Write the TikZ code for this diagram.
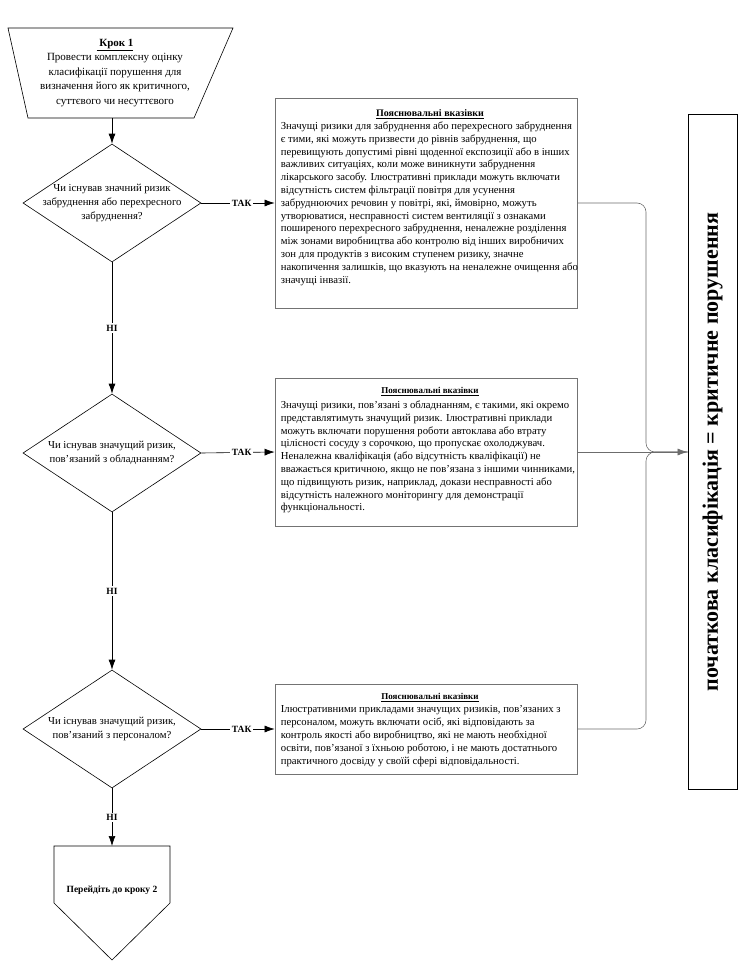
\documentclass[tikz,border=0pt]{standalone}
\usepackage{fontspec}
\setmainfont{Liberation Serif}
\usetikzlibrary{shapes.geometric,arrows.meta,calc}
\begin{document}
\begin{tikzpicture}[x=1pt,y=-1pt,
  flow/.style={draw=black, line width=0.6pt, -{Latex[length=10pt,width=7pt]}},
  conn/.style={draw=gray!85!black, line width=0.6pt},
  infobox/.style={draw=gray!90!black, line width=0.7pt, minimum width=302pt, inner sep=0pt},
  lbl/.style={fill=white, font=\bfseries\fontsize{9.5}{11}\selectfont, inner sep=1.5pt},
  bodytext/.style={align=left, inner sep=0pt, anchor=north west, font=\fontsize{10.7}{12.8}\selectfont},
  titletext/.style={font=\bfseries\fontsize{10}{12}\selectfont, anchor=base, inner sep=0pt},
  dia/.style={draw=black, diamond, minimum width=178pt, minimum height=118pt, inner sep=0pt, line width=0.6pt},
  diatext/.style={align=center, inner sep=0pt, font=\fontsize{10.7}{14}\selectfont},
  shapeline/.style={draw=black, line width=0.6pt}
]
\useasboundingbox (0,0) rectangle (744,974);

% Step 1 trapezoid
\draw[shapeline] (8,28) -- (233,28) -- (194,118) -- (28,118) -- cycle;
\coordinate (t1) at (112,118);
\node[align=center, inner sep=0pt, font=\fontsize{11}{14.5}\selectfont] (step1) at (115,73)
  {\textbf{\underline{\ Крок 1}}\\Провести комплексну оцінку\\класифікації порушення для\\визначення його як критичного,\\суттєвого чи несуттєвого};

% Diamonds
\node[dia] (d1) at (112,203) {};
\node[diatext] (d1t) at (d1) {Чи існував значний ризик\\забруднення або перехресного\\забруднення?};
\node[dia] (d2) at (112,453) {};
\node[diatext] (d2t) at (d2) {Чи існував значущий ризик,\\пов’язаний з обладнанням?};
\node[dia] (d3) at (112,729) {};
\node[diatext] (d3t) at (d3) {Чи існував значущий ризик,\\пов’язаний з персоналом?};

% Final pentagon
\draw[shapeline] (54,846) -- (170,846) -- (170,903) -- (112,960) -- (54,903) -- cycle;
\coordinate (p2) at (112,846);
\node[font=\bfseries\fontsize{9.5}{11}\selectfont, inner sep=0pt] (step2) at (112,890) {Перейдіть до кроку 2};

% Info boxes
\node[infobox, minimum height=210pt] (b1) at (426,203) {};
\node[titletext] (b1h) at ($(b1.north)+(4,19)$) {\underline{Пояснювальні вказівки}};
\node[bodytext] (b1t) at ($(b1.north west)+(6,24)$) {Значущі ризики для забруднення або перехресного забруднення\\
є тими, які можуть призвести до рівнів забруднення, що\\
перевищують допустимі рівні щоденної експозиції або в інших\\
важливих ситуаціях, коли може виникнути забруднення\\
лікарського засобу. Ілюстративні приклади можуть включати\\
відсутність систем фільтрації повітря для усунення\\
забруднюючих речовин у повітрі, які, ймовірно, можуть\\
утворюватися, несправності систем вентиляції з ознаками\\
поширеного перехресного забруднення, неналежне розділення\\
між зонами виробництва або контролю від інших виробничих\\
зон для продуктів з високим ступенем ризику, значне\\
накопичення залишків, що вказують на неналежне очищення або\\
значущі інвазії.};

\node[infobox, minimum height=148pt] (b2) at (426,452) {};
\node[titletext, font=\bfseries\fontsize{9}{11}\selectfont] (b2h) at ($(b2.north)+(4,16)$) {\underline{Пояснювальні вказівки}};
\node[bodytext] (b2t) at ($(b2.north west)+(6,23)$) {Значущі ризики, пов’язані з обладнанням, є такими, які окремо\\
представлятимуть значущий ризик. Ілюстративні приклади\\
можуть включати порушення роботи автоклава або втрату\\
цілісності сосуду з сорочкою, що пропускає охолоджувач.\\
Неналежна кваліфікація (або відсутність кваліфікації) не\\
вважається критичною, якщо не пов’язана з іншими чинниками,\\
що підвищують ризик, наприклад, докази несправності або\\
відсутність належного моніторингу для демонстрації\\
функціональності.};

\node[infobox, minimum height=90pt] (b3) at (426,729) {};
\node[titletext, font=\bfseries\fontsize{9}{11}\selectfont] (b3h) at ($(b3.north)+(4,16)$) {\underline{Пояснювальні вказівки}};
\node[bodytext] (b3t) at ($(b3.north west)+(6,22)$) {Ілюстративними прикладами значущих ризиків, пов’язаних з\\
персоналом, можуть включати осіб, які відповідають за\\
контроль якості або виробництво, які не мають необхідної\\
освіти, пов’язаної з їхньою роботою, і не мають достатнього\\
практичного досвіду у своїй сфері відповідальності.};

% Result box
\node[draw=black, line width=0.7pt, minimum width=49pt, minimum height=675pt, inner sep=0pt] (big) at (712.5,452) {};
\node[rotate=90, font=\bfseries\fontsize{22}{25}\selectfont, inner sep=0pt] (bigt) at (big) {початкова класифікація = критичне порушення};

% Main flow
\draw[flow] (t1) -- (d1.north);
\draw[flow] (d1.south) -- node[lbl] {НІ} (d2.north);
\draw[flow] (d2.south) -- node[lbl] {НІ} (d3.north);
\draw[flow] (d3.south) -- node[lbl] {НІ} (p2);

\draw[flow] (d1.east) -- node[lbl, pos=0.55] {ТАК} (b1.west);
\draw[flow] (d2.east) -- node[lbl, pos=0.55] {ТАК} (b2.west);
\draw[flow] (d3.east) -- node[lbl, pos=0.55] {ТАК} (b3.west);

% Right connectors
\coordinate (jtop) at (646,330);
\coordinate (jbot) at (646,600);
\draw[conn, rounded corners=9pt] (b1.east) -| (jtop) |- (big.west);
\draw[conn, rounded corners=9pt] (b3.east) -| (jbot) |- (big.west);
\draw[conn, -{Latex[length=10pt,width=7pt]}] (b2.east) -- (big.west);
\end{tikzpicture}
\end{document}
